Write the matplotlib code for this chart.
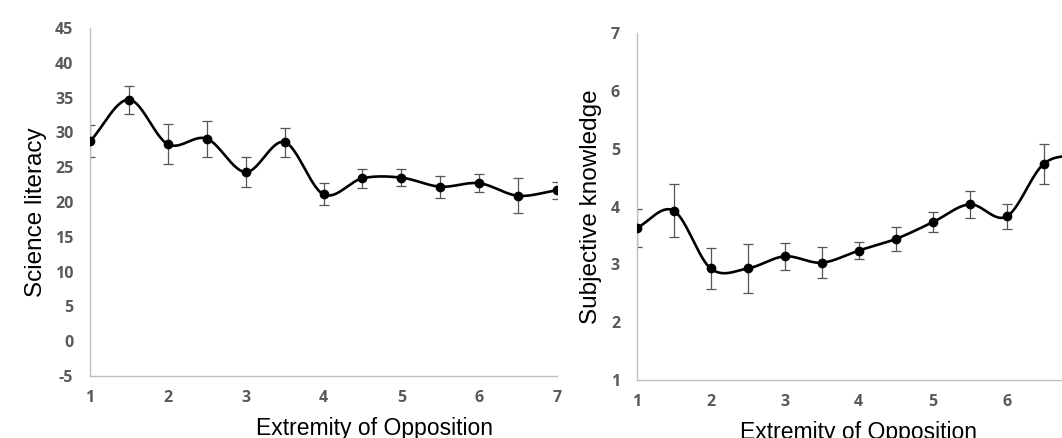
import numpy as np
import matplotlib
matplotlib.use("Agg")
import matplotlib.pyplot as plt

plt.rcParams["axes.unicode_minus"] = False

# Extremity of opposition levels (shared x values)
extremity = [1, 1.5, 2, 2.5, 3, 3.5, 4, 4.5, 5, 5.5, 6, 6.5, 7]

# Left panel: science literacy (mean, error)
sci_lit = [28.7, 34.7, 28.3, 29.1, 24.3, 28.6, 21.1, 23.4, 23.5, 22.2, 22.7, 20.9, 21.7]
sci_err = [2.3, 2.0, 2.9, 2.6, 2.1, 2.1, 1.6, 1.4, 1.2, 1.6, 1.3, 2.5, 1.2]
sci_ticks = list(range(-5, 46, 5))

# Right panel: subjective knowledge (mean, error)
subj_know = [3.63, 3.93, 2.93, 2.93, 3.14, 3.03, 3.24, 3.44, 3.73, 4.04, 3.83, 4.74, 4.9]
subj_err = [0.33, 0.46, 0.36, 0.43, 0.23, 0.27, 0.15, 0.2, 0.17, 0.23, 0.21, 0.34, 0.3]
subj_ticks = list(range(1, 8))

x_ticks = list(range(1, 8))
xlabel = "Extremity of Opposition"
tick_color = "#595959"
spine_color = "#bfbfbf"


def smooth(x, y, n=30):
    # Catmull-Rom spline like Excel's "smoothed line"
    x = np.asarray(x, float)
    y = np.asarray(y, float)
    px = np.concatenate([[2 * x[0] - x[1]], x, [2 * x[-1] - x[-2]]])
    py = np.concatenate([[2 * y[0] - y[1]], y, [2 * y[-1] - y[-2]]])
    t = np.linspace(0, 1, n)
    xs, ys = [], []
    for i in range(1, len(px) - 2):
        for p, out in ((px, xs), (py, ys)):
            p0, p1, p2, p3 = p[i - 1], p[i], p[i + 1], p[i + 2]
            out.append(0.5 * ((2 * p1) + (-p0 + p2) * t
                              + (2 * p0 - 5 * p1 + 4 * p2 - p3) * t ** 2
                              + (-p0 + 3 * p1 - 3 * p2 + p3) * t ** 3))
    return np.concatenate(xs), np.concatenate(ys)


def style(ax, yticks):
    for s in ("top", "right"):
        ax.spines[s].set_visible(False)
    for s in ("left", "bottom"):
        ax.spines[s].set_color(spine_color)
        ax.spines[s].set_linewidth(1.0)
    tick_font = dict(fontsize=11.5, fontweight="bold", family="Open Sans",
                     color=tick_color)
    ax.set_xticks(x_ticks)
    ax.set_xticklabels([str(v) for v in x_ticks], **tick_font)
    ax.set_yticks(yticks)
    ax.set_yticklabels([str(v) for v in yticks], **tick_font)
    ax.tick_params(length=0)
    ax.tick_params(axis="y", pad=12)
    ax.tick_params(axis="x", pad=10)


def draw(ax, y, err):
    sx, sy = smooth(extremity, y)
    ax.plot(sx, sy, color="black", lw=1.9, solid_capstyle="round", zorder=3)
    ax.errorbar(extremity, y, yerr=err, fmt="none", ecolor="#555555",
                elinewidth=0.9, capsize=3.5, capthick=0.9, zorder=2)
    ax.plot(extremity, y, "o", color="black", ms=6, zorder=4)


fig = plt.figure(figsize=(10.62, 4.38), dpi=100)

# Left panel
ax1 = fig.add_axes([90 / 1062, 62 / 438, 467 / 1062, 348 / 438])
draw(ax1, sci_lit, sci_err)
ax1.set_xlim(1, 7)
ax1.set_ylim(-5, 45)
style(ax1, sci_ticks)
ax1.set_ylabel("Science literacy", fontsize=17.5, family="Liberation Sans")
ax1.yaxis.set_label_coords(-0.092, 0.47)
ax1.set_xlabel(xlabel, fontsize=16.5, family="Liberation Sans")
ax1.xaxis.set_label_coords(0.61, -0.118)

# Right panel (cut off at the right edge, as in the original)
ax2 = fig.add_axes([636.7 / 1062, 58 / 438, 444 / 1062, 346.7 / 438])
draw(ax2, subj_know, subj_err)
ax2.set_xlim(1, 7)
ax2.set_ylim(1, 7)
style(ax2, subj_ticks)
ax2.set_ylabel("Subjective knowledge", fontsize=17.5, family="Liberation Sans")
ax2.yaxis.set_label_coords(-0.078, 0.5)
ax2.set_xlabel(xlabel, fontsize=16.5, family="Liberation Sans")
ax2.xaxis.set_label_coords(0.5, -0.118)

fig.savefig("out.png", dpi=100)
